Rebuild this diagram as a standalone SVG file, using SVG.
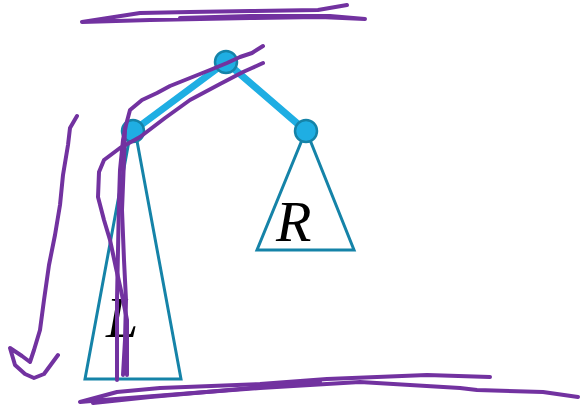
<svg xmlns="http://www.w3.org/2000/svg" width="588" height="408" viewBox="0 0 588 408">
<style>
.edge{stroke:#1FAEE3;stroke-width:7;stroke-linecap:round;fill:none}
.node{fill:#1FAEE3;stroke:#1583A8;stroke-width:2.5}
.tri{fill:none;stroke:#1583A8;stroke-width:3;stroke-linejoin:miter}
.lbl{font-family:"Liberation Serif","Times New Roman",serif;font-style:italic;font-size:58px;fill:#000}
.ink{fill:none;stroke:#7232A0;stroke-width:4;stroke-linecap:round;stroke-linejoin:round}
</style>
<rect width="588" height="408" fill="#fff"/>
<g id="connectors">
<line class="edge" x1="226" y1="62" x2="133" y2="131"/>
<line class="edge" x1="226" y1="62" x2="306" y2="131"/>
</g>
<g id="subtree-L">
<polygon class="tri" points="129,141 137,141 181,379 85,379"/>
<text class="lbl" x="106" y="337">L</text>
</g>
<g id="subtree-R">
<polygon class="tri" points="302,140 310,140 354,250 257,250"/>
<text class="lbl" x="276" y="241">R</text>
</g>
<g id="node-root"><circle class="node" cx="226" cy="62" r="11"/></g>
<g id="node-left"><circle class="node" cx="133" cy="131" r="11"/></g>
<g id="node-right"><circle class="node" cx="306" cy="131" r="11"/></g>
<g id="annotations">
<path class="ink" d="M347,5 L318,10 L250,11 L190,12 L140,13 L82,22 L150,20 L250,18 L320,17 L365,19 L330,16 L250,16 L180,18"/>
<path class="ink" d="M263,46 L252,53 L240,57 L227,63 L210,70 L190,78 L170,86 L157,93 L142,100 L130,110 L126,125 L123,140 L120,170 L119,200 L118,250 L117,300 L117,340 L117,380"/>
<path class="ink" d="M263,63 L252,68 L243,72 L220,84 L190,100 L165,118 L140,137 L120,148 L104,160 L99,172 L98,197 L104,220 L110,240 L116,268 L122,295 L127,320 L127,345 L127,375"/>
<path class="ink" d="M125,128 L124,160 L122,210 L124,260 L126,300 L125,340 L123,375"/>
<path class="ink" d="M77,116 L70,128 L68,145 L63,175 L60,205 L55,235 L49,265 L44,300 L40,330 L34,350 L30,362 L22,356 L10,348 L15,365 L25,374 L34,378 L44,374 L58,355"/>
<path class="ink" d="M490,377 L427,375 L327,379 L260,384 L160,388 L117,392 L80,402 L103,400 L193,393 L260,388 L360,382 L460,388 L477,390 L543,392 L578,397"/>
<path class="ink" d="M93,403 L150,397 L240,389 L320,382"/>
</g>
</svg>
